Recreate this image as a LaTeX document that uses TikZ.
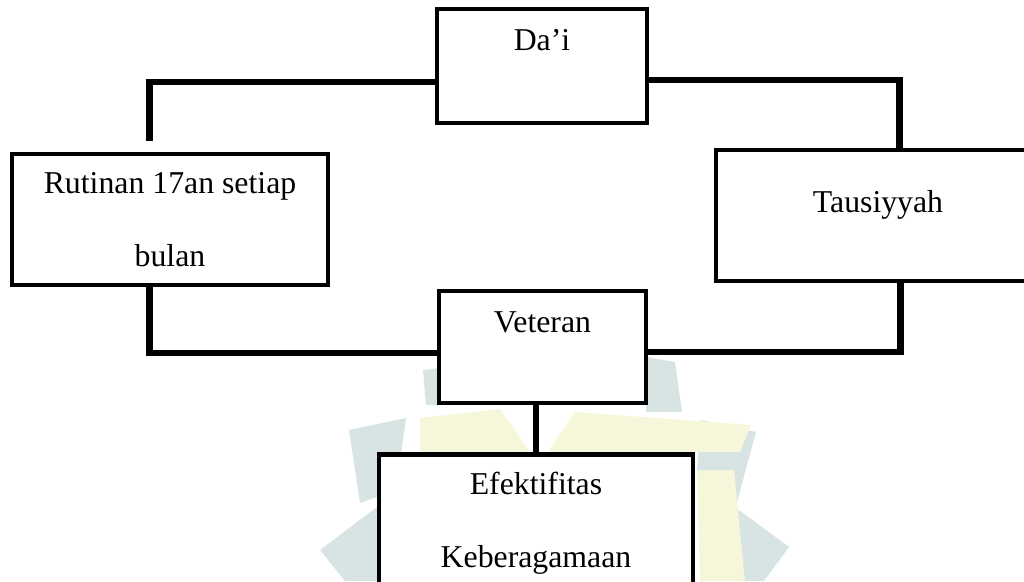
\documentclass[tikz,border=0pt]{standalone}
\usepackage{fontspec}
\setmainfont{Liberation Serif}
\usetikzlibrary{positioning}
\definecolor{wmteal}{RGB}{216,228,228}
\definecolor{wmyellow}{RGB}{246,246,218}
\newdimen\px
\px=0.025cm

\begin{document}
\begin{tikzpicture}[x=0.025cm, y=-0.025cm,
  box/.style={draw, line width=3.3pt, inner sep=0pt, fill=white,
    font=\fontsize{22.6pt}{27pt}\selectfont},
  link/.style={line width=4.6pt}]
\clip (0,0) rectangle (1024,581);

% Faint logo behind the chart
\fill[wmteal] (349,430) -- (406,418) -- (396,490) -- (360,503) -- cycle;
\fill[wmteal] (377,507) -- (320,550) -- (345,581) -- (380,581) -- cycle;
\fill[wmteal] (701,420) -- (756,432) -- (734,513) -- (697,470) -- cycle;
\fill[wmteal] (722,557) -- (739,510) -- (789,547) -- (764,581) -- (740,581) -- cycle;
\fill[wmteal] (423,370) -- (439,368) -- (439,405) -- (426,405) -- cycle;
\fill[wmteal] (646,357) -- (675,362) -- (682,412) -- (646,412) -- cycle;
\fill[wmyellow] (420,418) -- (500,409) -- (530,452) -- (420,452) -- cycle;
\fill[wmyellow] (548,452) -- (575,412) -- (751,425) -- (740,452) -- cycle;
\fill[wmyellow] (697,470) -- (734,470) -- (745,581) -- (700,581) -- cycle;

% Boxes
\node[box, anchor=base, minimum width=210\px, text height=41\px, text depth=73\px]
  (dai) at (542,50) {Da’i};
\node[box, align=center, minimum width=316\px, minimum height=131\px]
  (rutin) at (170,219.5) {Rutinan 17an setiap\\[25pt]bulan};
\node[box, anchor=base, minimum width=324\px, text height=62\px, text depth=69\px]
  (tausi) at (878,212) {Tausiyyah};
\node[box, anchor=base, minimum width=207\px, text height=41\px, text depth=71\px]
  (vet) at (542.5,332) {Veteran};
\node[box, align=center, anchor=north, minimum width=314\px, inner ysep=18\px]
  (efek) at (536,452) {Efektifitas\\[25pt]Keberagamaan};

% Connectors
\draw[link] ([yshift=-16\px]dai.west) -| ([xshift=140\px, yshift=11\px]rutin.north west);
\draw[link] ([yshift=-14\px]dai.east) -| ([xshift=186\px]tausi.north west);
\draw[link] ([xshift=140\px]rutin.south west) |- ([yshift=-6\px]vet.west);
\draw[link] ([xshift=187\px]tausi.south west) |- ([yshift=-5\px]vet.east);
\draw[link] (efek.north) -- (efek.north |- vet.south);

\end{tikzpicture}
\end{document}
